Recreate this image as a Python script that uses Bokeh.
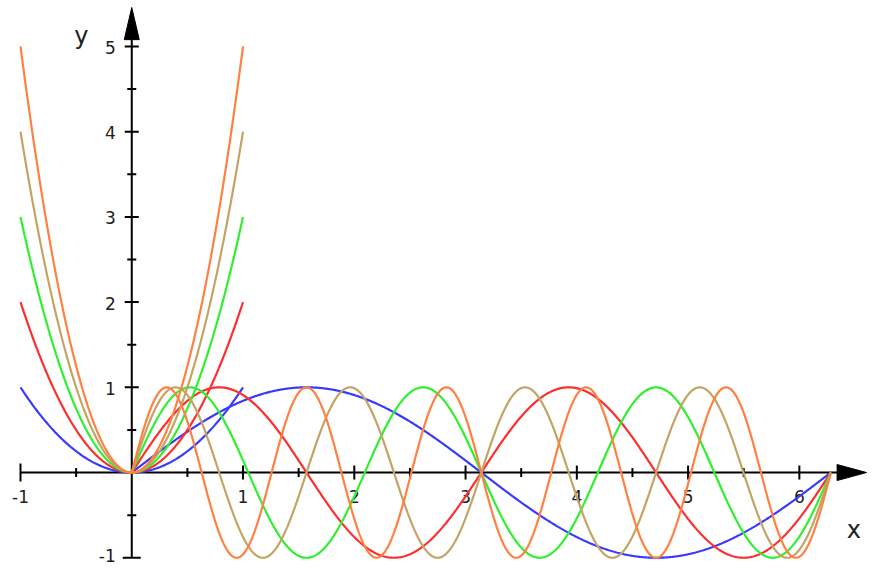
import numpy as np
from bokeh.plotting import figure
from bokeh.models import Range1d
from bokeh.core.properties import value
from bokeh.embed import file_html
from bokeh.resources import INLINE

# ---- data ----
a_values = [1, 2, 3, 4, 5]
colors = ["#3a3aff", "#ff2e2e", "#2ef02e", "#c2a464", "#ff8040"]
x_tick_values = [-1, 1, 2, 3, 4, 5, 6]
x_tick_labels = ["-1", "1", "2", "3", "4", "5", "6"]
y_tick_values = [-1, 1, 2, 3, 4, 5]
y_tick_labels = ["-1", "1", "2", "3", "4", "5"]
x_minor = [-0.5, 0.5, 1.5, 2.5, 3.5, 4.5, 5.5]
y_minor = [-0.5, 0.5, 1.5, 2.5, 3.5, 4.5]

W, H = 867, 568
# map reference pixel positions into the (slightly smaller) figure
KX = (W - 1 - 20) / (883 - 20)
KY = (H - 1 - 7) / (582 - 7)
def fx(r):
    return 20 + (r - 20) * KX
def fy(r):
    return 7 + (r - 7) * KY

SX, SY = 113.5 * KX, 87.5 * KY          # px per data unit
X0, Y0 = fx(133.5), fy(484.5)           # pixel position of the origin
def xd(px):
    return (px - X0) / SX
def yd(py):
    return (Y0 - py) / SY

p = figure(width=W, height=H, output_backend="svg", toolbar_location=None,
           x_range=Range1d(xd(0), xd(W)), y_range=Range1d(yd(H), yd(0)),
           x_axis_location=None, y_axis_location=None, min_border=0)
p.outline_line_color = None
p.grid.visible = False
p.background_fill_color = "white"

AX = "#000000"
# axis lines
x_arrow_base = xd(fx(853))
x_arrow_tip = xd(fx(883))
y_arrow_base = yd(fy(40))
y_arrow_tip = yd(fy(7))
p.segment(x0=[-1, 0], y0=[0, -1], x1=[x_arrow_base, 0], y1=[0, y_arrow_base],
          line_color=AX, line_width=2)
# arrow heads
p.patch(x=[x_arrow_base, x_arrow_tip, x_arrow_base], y=[8 / SY, 0, -8 / SY],
        fill_color=AX, line_color=AX, line_width=1)
p.patch(x=[-7.5 / SX, 0, 7.5 / SX], y=[y_arrow_base, y_arrow_tip, y_arrow_base],
        fill_color=AX, line_color=AX, line_width=1)

# ticks
def xticks(vals, half):
    p.segment(x0=vals, x1=vals, y0=[-half / SY] * len(vals), y1=[half / SY] * len(vals),
              line_color=AX, line_width=2)
def yticks(vals, half):
    p.segment(y0=vals, y1=vals, x0=[-half / SX] * len(vals), x1=[half / SX] * len(vals),
              line_color=AX, line_width=2)

xticks([v for v in x_tick_values if v != -1], 7)
xticks([-1], 9)
xticks(x_minor, 4.5)
yticks([v for v in y_tick_values if v != -1], 7)
yticks([-1], 9)
yticks(y_minor, 4.5)

FONT = value("DejaVu Sans")
TXT = "#202020"
p.text(x=x_tick_values, y=[0] * len(x_tick_values), text=x_tick_labels,
       text_font=FONT, text_font_size="17px", text_color=TXT,
       text_align="center", text_baseline="middle", y_offset=25 * KY)
y_offs = [-2 if v == -1 else 1 for v in y_tick_values]
p.text(x=[0] * len(y_tick_values), y=y_tick_values, text=y_tick_labels,
       text_font=FONT, text_font_size="17px", text_color=TXT,
       text_align="right", text_baseline="middle", x_offset=-16, y_offset=y_offs)
p.text(x=[xd(fx(870))], y=[yd(fy(544))], text=["x"], text_font=FONT,
       text_font_size="24px", text_color=TXT, text_align="center", text_baseline="middle")
p.text(x=[xd(fx(82))], y=[yd(fy(36))], text=["y"], text_font=FONT,
       text_font_size="24px", text_color=TXT, text_align="center", text_baseline="middle")

# curves
xp = np.linspace(-1, 1, 201)
xs = np.linspace(0, 2 * np.pi, 801)
for a, c in zip(a_values, colors):
    p.line(xp, a * xp ** 2, line_color=c, line_width=2.2)
    p.line(xs, np.sin(a * xs), line_color=c, line_width=2.2)

open("out.html", "w").write(file_html(p, INLINE))
